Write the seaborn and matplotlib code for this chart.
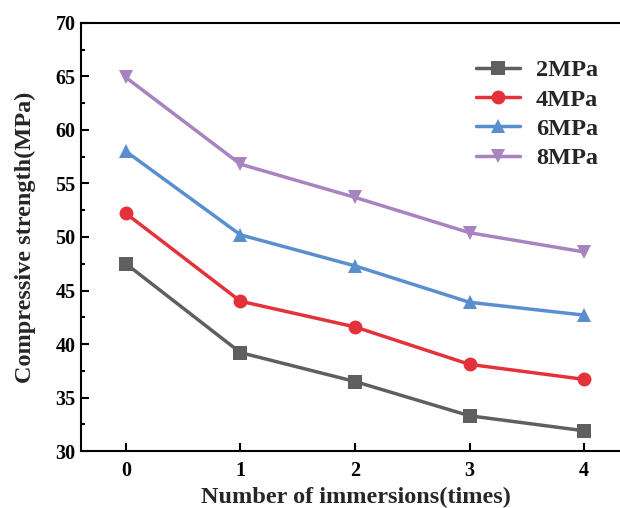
import pandas as pd
import seaborn as sns
import matplotlib.pyplot as plt
from matplotlib.ticker import MultipleLocator

# Data
immersions = [0, 1, 2, 3, 4]
p2 = [47.5, 39.2, 36.5, 33.3, 31.9]
p4 = [52.2, 44.0, 41.6, 38.1, 36.7]
p6 = [58.0, 50.2, 47.3, 43.9, 42.7]
p8 = [64.9, 56.8, 53.7, 50.4, 48.6]
labels = ['2MPa', '4MPa', '6MPa', '8MPa']

df = pd.DataFrame({
    'times': immersions * 4,
    'strength': p2 + p4 + p6 + p8,
    'pressure': [l for l in labels for _ in immersions],
})

sns.set_style('ticks')
plt.rcParams['font.family'] = ['Liberation Serif', 'DejaVu Serif']
plt.rcParams['font.weight'] = 'bold'

colors = {'2MPa': '#5f5f5f', '4MPa': '#e3323a', '6MPa': '#5a8fcf', '8MPa': '#a783c0'}
markers = {'2MPa': 's', '4MPa': 'o', '6MPa': '^', '8MPa': 'v'}

fig = plt.figure(figsize=(6.2, 5.08), dpi=100)
ax = fig.add_axes([0.131, 0.112, 0.885, 0.843])

sns.lineplot(data=df, x='times', y='strength', hue='pressure', style='pressure',
             palette=colors, markers=markers, dashes=False, linewidth=2.5,
             markersize=10, markeredgewidth=0, ax=ax)

ax.set_xlim(-0.39, 4.4)
ax.set_ylim(30, 70)
ax.set_xticks(immersions)
ax.yaxis.set_major_locator(MultipleLocator(5))
ax.yaxis.set_minor_locator(MultipleLocator(2.5))
ax.tick_params(axis='both', which='both', direction='in', labelsize=14.5, width=1.5,
               color='black', labelcolor='black')
ax.tick_params(which='major', length=6)
ax.tick_params(which='minor', length=3)
ax.tick_params(axis='x', pad=7)
ax.tick_params(axis='y', pad=4)
for s in ax.spines.values():
    s.set_linewidth(1.5)
    s.set_color('black')
ax.spines['right'].set_visible(False)

ax.set_xlabel('Number of immersions(times)', fontsize=17.5, fontweight='bold', labelpad=4)
ax.set_ylabel('Compressive strength(MPa)', fontsize=17.5, fontweight='bold', labelpad=14)

leg = ax.legend(loc='upper right', bbox_to_anchor=(0.982, 0.966), frameon=False,
                fontsize=17.5, handlelength=1.8, handletextpad=0.66,
                labelspacing=0.3, title=None)

fig.savefig('out.png', dpi=100)
